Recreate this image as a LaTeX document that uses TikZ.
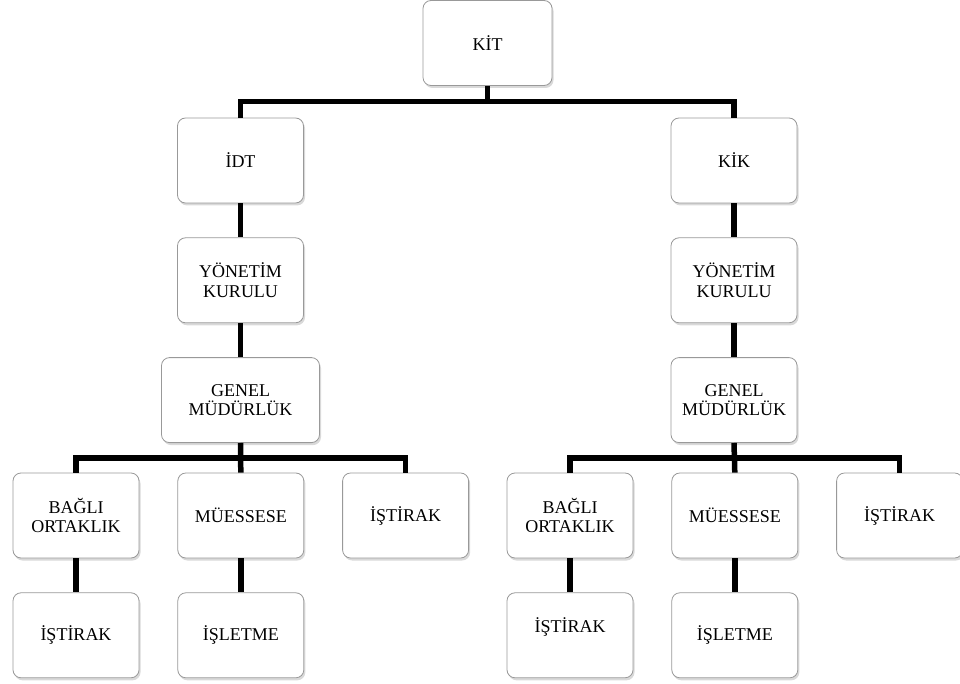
\documentclass[tikz,border=0pt]{standalone}
\usepackage{fontspec}
\setmainfont{Liberation Serif}
\usetikzlibrary{positioning, calc, shadows}

\begin{document}
\begin{tikzpicture}[x=1pt, y=1pt,
            unit/.style={draw=black!40, line width=0.8pt, fill=white, rounded corners=8pt,
                minimum width=126pt, minimum height=85pt, inner sep=2pt, align=center,
                font=\fontsize{18}{19.5}\selectfont,
                drop shadow={shadow xshift=1.5pt, shadow yshift=-2.5pt, opacity=0.3}},
            link/.style={line width=5.5pt}]

            \useasboundingbox (0,0) rectangle (960,-684);

            % Top level and the two branches
            \node[unit, minimum width=129pt] (kit) at (487.5,-43) {KİT};
            \node[unit] (idt) at (240.5,-160.5) {İDT};
            \node[unit] (kik) at (734,-160.5) {KİK};

            % Left branch
            \node[unit, below=34pt of idt] (yk-l) {YÖNETİM\\KURULU};
            \node[unit, minimum width=158pt, below=34pt of yk-l] (gm-l) {GENEL\\MÜDÜRLÜK};
            \node[unit] (bo-l) at (76,-515.5) {BAĞLI\\ORTAKLIK};
            \node[unit, right=38pt of bo-l] (mu-l) {MÜESSESE};
            \node[unit, right=38pt of mu-l] (is-l) {İŞTİRAK};
            \node[unit, below=34pt of bo-l] (bis-l) {İŞTİRAK};
            \node[unit, below=34pt of mu-l] (ie-l) {İŞLETME};

            % Right branch
            \node[unit, below=34pt of kik] (yk-r) {YÖNETİM\\KURULU};
            \node[unit, below=34pt of yk-r] (gm-r) {GENEL\\MÜDÜRLÜK};
            \node[unit] (bo-r) at (570,-515.5) {BAĞLI\\ORTAKLIK};
            \node[unit, right=38pt of bo-r] (mu-r) {MÜESSESE};
            \node[unit, right=38pt of mu-r] (is-r) {İŞTİRAK};
            \node[unit, below=34pt of bo-r, text depth=20pt] (bis-r) {İŞTİRAK};
            \node[unit, below=34pt of mu-r] (ie-r) {İŞLETME};

            % Bus lines
            \coordinate (bus-top) at ($(kit.south)!0.5!(kit.south |- idt.north)$);
            \coordinate (bus-l) at ($(gm-l.south)!0.5!(gm-l.south |- mu-l.north)$);
            \coordinate (bus-r) at ($(gm-r.south)!0.5!(gm-r.south |- mu-r.north)$);

            \draw[link] (kit.south) -- (bus-top);
            \draw[link] (idt.north) |- (bus-top) -| (kik.north);

            \draw[link] (gm-l.south) -- (mu-l.north);
            \draw[link] (bo-l.north) |- (bus-l) -| (is-l.north);
            \draw[link] (gm-r.south) -- (mu-r.north);
            \draw[link] (bo-r.north) |- (bus-r) -| (is-r.north);

            % Straight links
            \draw[link] (idt) -- (yk-l);
            \draw[link] (yk-l) -- (gm-l);
            \draw[link] (kik) -- (yk-r);
            \draw[link] (yk-r) -- (gm-r);
            \draw[link] (bo-l) -- (bis-l);
            \draw[link] (mu-l) -- (ie-l);
            \draw[link] (bo-r) -- (bis-r);
            \draw[link] (mu-r) -- (ie-r);
        \end{tikzpicture}
\end{document}
